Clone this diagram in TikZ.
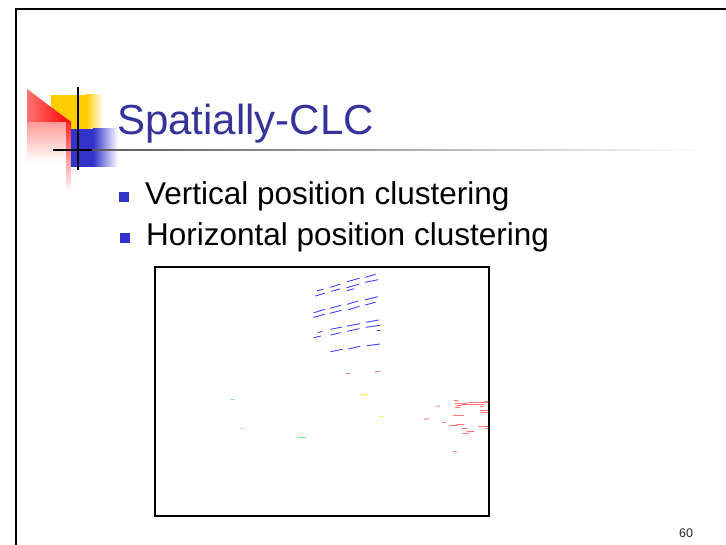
\documentclass[tikz,border=0pt]{standalone}
\usepackage{fontspec}
\newfontfamily\slidefont{Liberation Sans}
\usetikzlibrary{positioning}

\definecolor{titleblue}{RGB}{51,51,153}
\definecolor{bulletblue}{RGB}{51,51,204}
\definecolor{logoyellow}{RGB}{255,204,0}

\tikzset{
  itemtext/.style={anchor=base west, inner sep=0pt, font=\slidefont\fontsize{31.5}{38}\selectfont},
  dot/.style={line width=0.9pt, line cap=round}
}

\begin{document}
\begin{tikzpicture}[x=1pt, y=-1pt]
\useasboundingbox (0,0) rectangle (726,545);

%\draw[step=50, color=gray!30] (0,0) grid (726,545);

% slide frame
\draw[line width=2pt] (15.7,545) -- (15.7,9) -- (726,9);

% logo
\fill[logoyellow] (51,95) rectangle (86,129);
\shade[left color=logoyellow, right color=white] (86,95) rectangle (103,129);
\shade[top color=red!40, bottom color=white] (27,122) rectangle (71,162);
\shade[top color=red!85, bottom color=white] (66,122) rectangle (71,192);
\shade[left color=red!55, right color=red] (27,89) -- (71,122) -- (27,122) -- cycle;
\fill[bulletblue] (71,129) rectangle (93,167);
\shade[left color=bulletblue, right color=white] (93,129) rectangle (118,167);
\shade[left color=black!65, right color=white] (90,149.3) rectangle (705,150.7);
\draw[line width=1.4pt] (53,150) -- (92,150);
\draw[line width=1.6pt] (78,87) -- (78,170);

% title
\node[anchor=base west, inner sep=0pt, text=titleblue,
      font=\slidefont\fontsize{42}{50}\selectfont] (title) at (117,135) {Spatially-CLC};

% bullets
\node[itemtext] (item1) at (145,205) {Vertical position clustering};
\node[itemtext] (item2) at (146,246) {Horizontal position clustering};
\foreach \n in {item1, item2}
  \fill[bulletblue] ([xshift=-26pt, yshift=3pt]\n.base west) rectangle +(10,-10);

% clustering image
\draw[line width=2pt] (155,267) rectangle (488.7,516.3);

\foreach \a/\b/\c/\d in {
  315.3/296/324.7/293.3, 317.3/290.7/323.3/289.3, 330/287.3/340/284.3,
  331.3/291.3/340/289, 347.3/281.7/359.3/278.3, 346.7/287.7/358.7/284.3,
  347.3/290.7/354/288.7, 365.3/277.3/375.3/274.3, 365.3/282.3/378/279.7,
  314/312.7/324.7/309.3, 313.3/317.3/324.7/314.3, 330/308.3/340.7/305.3,
  330/313.3/341.3/310.3, 347.3/304.3/358/301, 348.7/309.7/359.3/306.3,
  365.3/299.7/378/296.7, 365.3/305/375.3/302.3,
  314/337.7/320.7/336, 318/332.7/322/331.3, 330.7/329.3/342/327,
  330.7/335/340.7/332.7, 347.3/326/360/323.7, 347.3/331.3/359.3/328.7,
  366/322.3/378.7/320, 366/327.3/380/325.3, 377/330.3/380/330.3,
  330.7/351.7/342.7/349.3, 348/349/360/346.3, 367.3/345.7/380/344}
  \draw[dot, blue!75] (\a,\b) -- (\c,\d);

\foreach \a/\b/\c/\d in {
  454/400/458/400, 455.3/403.3/466.7/403.3, 468/402.3/488/402.3,
  462/404.3/483.3/404.3, 484.7/401/488/401, 456.7/405.3/462/405.3,
  455.3/407.3/460/407.3, 436/406.3/440/406, 480/406.3/483.3/406.3,
  480/410.3/488/410.3, 481.3/412/488/412, 453.3/415.3/463.3/415.3,
  424/419.3/428.7/418.7, 442/422.3/445.3/422.3, 456.7/424.3/464/424.3,
  450/425.7/457.3/425.7, 478.7/426.3/488/426.3, 485.3/428.3/488/428.3,
  462/428.7/467.3/428.7, 466.7/431.7/474/431.3, 462.7/433.3/468.7/433.3,
  453.3/451.3/456.7/452}
  \draw[dot, red!55] (\a,\b) -- (\c,\d);

\draw[dot, magenta!55] (346,373.3) -- (350,373.3);
\draw[dot, magenta!55] (374.7,372) -- (380,371.3);
\draw[dot, cyan!55] (231.3,399.3) -- (234,399.3);
\draw[dot, cyan!40] (241.3,428.7) -- (244,428.7);
\draw[dot, yellow] (361.3,395.3) -- (367.3,394.3);
\draw[dot, yellow] (380,416.3) -- (382,416.3);
\draw[dot, green!60] (298.7,437.3) -- (306,437.7);

% page number
\node[anchor=base west, inner sep=0pt, text=black!85,
      font=\slidefont\fontsize{12.5}{15}\selectfont] (page) at (679,537) {60};

\end{tikzpicture}
\end{document}
